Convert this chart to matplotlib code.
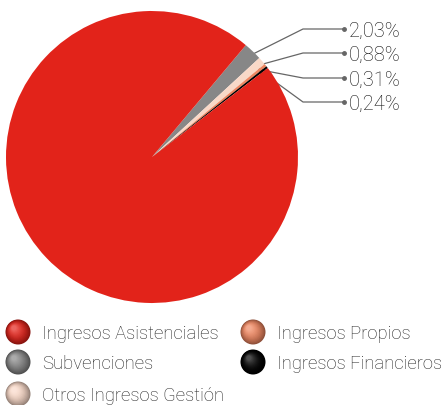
import numpy as np
import matplotlib.pyplot as plt
from matplotlib.patches import Circle

# Data
categories = ['Ingresos Asistenciales', 'Subvenciones', 'Otros Ingresos Gestión',
              'Ingresos Propios', 'Ingresos Financieros']
values = [96.53, 2.03, 0.88, 0.31, 0.24]
labels = ['96,53%', '2,03%', '0,88%', '0,31%', '0,24%']
colors = ['#E2231A', '#878787', '#F9D9C8', '#EE8660', '#000000']

W, H = 441, 406
fig = plt.figure(figsize=(W / 100, H / 100), dpi=100)

# overlay axes in pixel coordinates
over = fig.add_axes([0, 0, 1, 1])
over.set_xlim(0, W)
over.set_ylim(H, 0)
over.axis('off')

# pie axes
cx, cy, r = 152, 158, 146
ax = fig.add_axes([(cx - r) / W, (H - cy - r) / H, 2 * r / W, 2 * r / H])
order = [1, 2, 3, 4, 0]   # small slices first, clockwise from the top right
wedges, _ = ax.pie([values[i] for i in order], colors=[colors[i] for i in order],
                   startangle=50, counterclock=False, radius=1,
                   wedgeprops=dict(linewidth=0))
ax.set_xlim(-1, 1)
ax.set_ylim(-1, 1)
ax.axis('off')

# big label
over.text(99, 190, labels[0], color='white', fontsize=25, family='Roboto',
          weight='light', ha='center', va='center')

# leader lines for small slices
label_y = [30, 54, 79, 103]
for k, i in enumerate(order[:4]):
    w = wedges[k]
    mid = np.deg2rad((w.theta1 + w.theta2) / 2)
    px = cx + 0.95 * r * np.cos(mid)
    py = cy - 0.95 * r * np.sin(mid)
    ly = label_y[k]
    over.plot([px, 303, 344], [py, ly, ly], color='#666666', lw=0.9)
    over.plot([px, 344], [py, ly], 'o', color='#666666', ms=2.5)
    over.text(349, ly + 1, labels[i], fontsize=14.5, family='Roboto', weight='light',
              color='#111111', va='center', ha='left')

# legend with shaded circles
leg_pos = [(18, 333), (18, 363), (18, 395), (253, 333), (253, 363)]
leg_items = [0, 1, 2, 3, 4]
for (lx, ly), i in zip(leg_pos, leg_items):
    base = np.array(plt.matplotlib.colors.to_rgb(colors[i]))
    dark = base * 0.6
    light = base + (1 - base) * 0.3
    n = 14
    for s in range(n):
        t = s / (n - 1)
        rad = 12.5 * (1 - 0.8 * t)
        col = dark * (1 - t) ** 2 + base * 2 * t * (1 - t) + light * t ** 2
        off = 4 * t
        over.add_patch(Circle((lx - off, ly - off), rad, color=col, lw=0))
    over.text(lx + 24, ly + 1, categories[i], fontsize=13.3, family='Roboto',
              weight='light', color='#222222', va='center', ha='left')

fig.savefig('out.png', dpi=100)
